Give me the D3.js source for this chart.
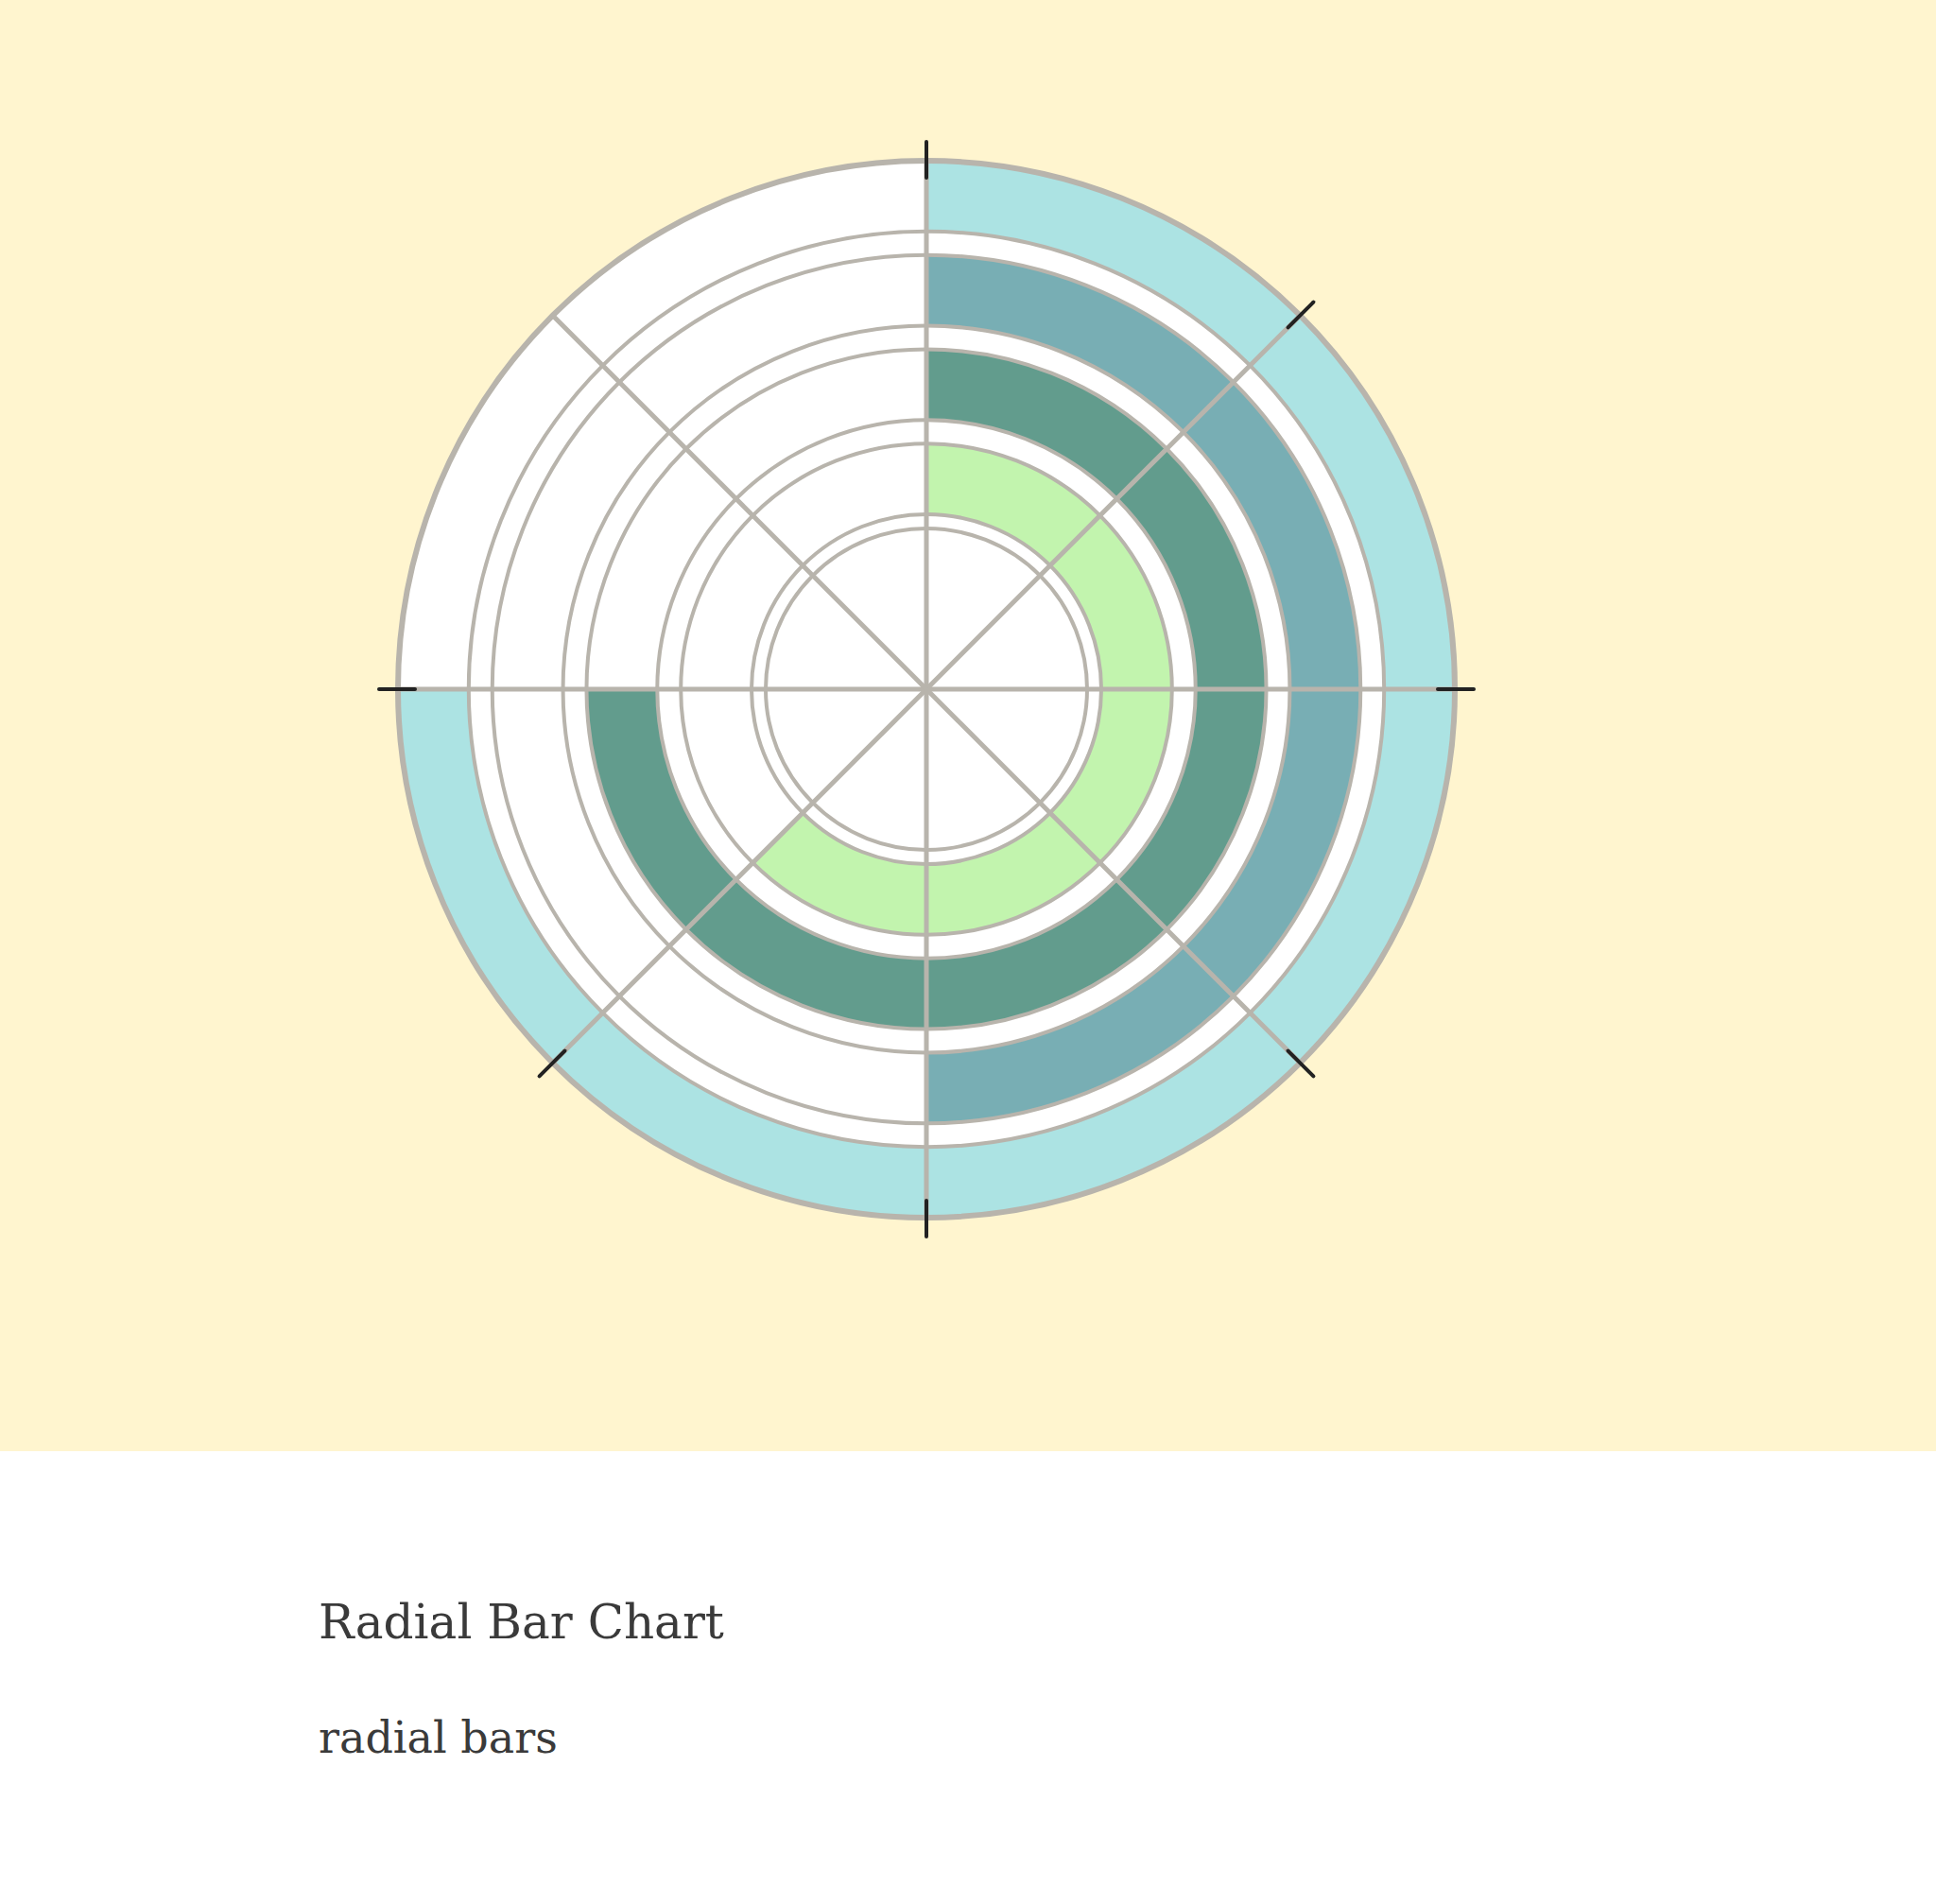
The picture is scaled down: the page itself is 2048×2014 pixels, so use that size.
<!DOCTYPE html>
<html>
<head>
<meta charset="utf-8">
<script src="https://cdn.jsdelivr.net/npm/d3@7"></script>
<style>
  body { margin: 0; background: #fff; }
  svg { display: block; }
</style>
</head>
<body>
<svg id="chart" width="2048" height="2014"></svg>
<script>
// --- Data ---
const categories = ["A", "B", "C", "D"];
const values = [225, 270, 180, 270];   // degrees of sweep, out of 360
const colors = ["#c2f4ae", "#629c8d", "#78aeb4", "#ace3e3"];
const tickAngles = [0, 45, 90, 135, 180, 225, 270];
const spokeAngles = [0, 45, 90, 135, 180, 225, 270, 315];

const W = 2048, H = 2014;
const cx = 980, cy = 729;
const innerR = 170, outerR = 559;
const grid = "#b8b4ac";

const svg = d3.select("#chart");
svg.append("rect").attr("width", W).attr("height", 1535).attr("fill", "#fff5cf");

const g = svg.append("g").attr("transform", `translate(${cx},${cy})`);

const rScale = d3.scaleBand().domain(categories).range([185, outerR]).paddingInner(0.25);
const aScale = d3.scaleLinear().domain([0, 360]).range([0, 2 * Math.PI]);

// white disc
g.append("circle").attr("r", outerR).attr("fill", "#fff");

// bars
const arc = d3.arc()
  .innerRadius((d, i) => rScale(categories[i]))
  .outerRadius((d, i) => rScale(categories[i]) + rScale.bandwidth())
  .startAngle(0)
  .endAngle(d => aScale(d));

g.selectAll("path.bar").data(values).join("path")
  .attr("class", "bar")
  .attr("d", (d, i) => arc(d, i))
  .attr("fill", (d, i) => colors[i]);

// grid circles
const rings = [innerR];
categories.forEach(c => { rings.push(rScale(c)); rings.push(rScale(c) + rScale.bandwidth()); });
g.selectAll("circle.ring").data(rings).join("circle")
  .attr("class", "ring")
  .attr("r", d => d)
  .attr("fill", "none")
  .attr("stroke", grid)
  .attr("stroke-width", (d, i) => i === rings.length - 1 ? 6 : 4);

// spokes
g.selectAll("line.spoke").data(spokeAngles).join("line")
  .attr("class", "spoke")
  .attr("x1", 0).attr("y1", 0)
  .attr("x2", d => Math.sin(aScale(d)) * outerR)
  .attr("y2", d => -Math.cos(aScale(d)) * outerR)
  .attr("stroke", grid).attr("stroke-width", 5);

// ticks
g.selectAll("line.tick").data(tickAngles).join("line")
  .attr("class", "tick")
  .attr("x1", d => Math.sin(aScale(d)) * (outerR - 18))
  .attr("y1", d => -Math.cos(aScale(d)) * (outerR - 18))
  .attr("x2", d => Math.sin(aScale(d)) * (outerR + 20))
  .attr("y2", d => -Math.cos(aScale(d)) * (outerR + 20))
  .attr("stroke", "#222").attr("stroke-width", 4).attr("stroke-linecap", "round");

// titles
svg.append("text").attr("x", 337).attr("y", 1733)
  .attr("font-family", "DejaVu Serif, Liberation Serif, serif")
  .attr("font-size", 50).attr("fill", "#3a3a3a").text("Radial Bar Chart");
svg.append("text").attr("x", 337).attr("y", 1854)
  .attr("font-family", "DejaVu Serif, Liberation Serif, serif")
  .attr("font-size", 46).attr("fill", "#3a3a3a").text("radial bars");
</script>
</body>
</html>
